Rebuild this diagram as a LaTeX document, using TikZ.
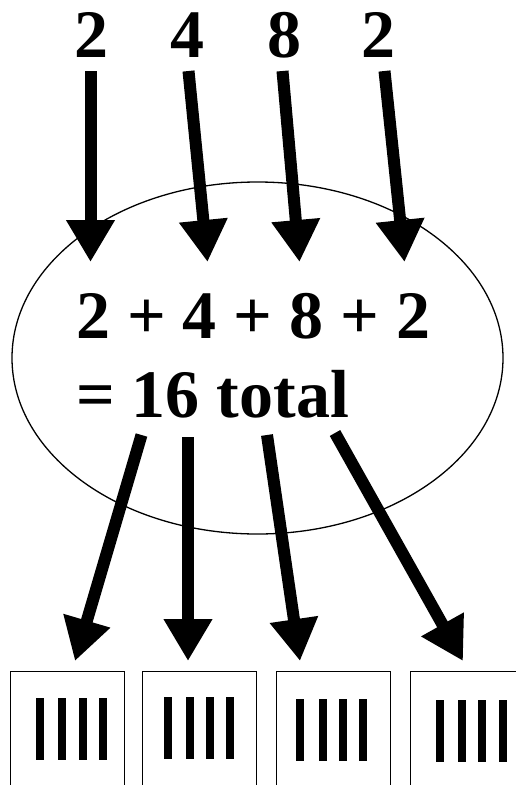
\documentclass[tikz,border=0pt]{standalone}
\usepackage{fontspec}
\setmainfont{Liberation Serif}
\usetikzlibrary{arrows.meta,shapes.geometric}
\begin{document}
\begin{tikzpicture}[x=1pt,y=-1pt,
  bignum/.style={font=\fontsize{68}{79}\selectfont\bfseries, inner sep=0pt},
  fatarrow/.style={line width=12pt, -{Triangle[length=42pt,width=46pt]}},
  outbox/.style={draw, line width=1.3pt, minimum width=114pt, minimum height=170pt, anchor=north west, inner sep=0pt},
  bar/.style={fill=black}
]
\useasboundingbox (0,0) rectangle (516,785);
\clip (0,0) rectangle (516,785);
% top numbers
\node[bignum, anchor=base] (n1) at (91,57) {2};
\node[bignum, anchor=base] (n2) at (187,57) {4};
\node[bignum, anchor=base] (n3) at (284,57) {8};
\node[bignum, anchor=base] (n4) at (378,57) {2};
% ellipse
\node[draw, ellipse, line width=1.3pt, minimum width=491pt, minimum height=352pt, inner sep=0pt] (ell) at (257.5,358) {};
\node[bignum, anchor=base west] (sum) at (76,338) {2 + 4 + 8 + 2};
\node[bignum, anchor=base west] (tot) at (76,417) {= 16 total};
% boxes
\node[outbox] (b1) at (10,671) {};
\node[outbox] (b2) at (142,671) {};
\node[outbox] (b3) at (276,671) {};
\node[outbox] (b4) at (410,671) {};
% bars
\foreach \x in {40,62,82.5,102.5} \fill[bar] (\x-4,698) rectangle (\x+4,760);
\foreach \x in {168,190,210,230} \fill[bar] (\x-4,697) rectangle (\x+4,759);
\foreach \x in {300,322.5,342.5,362.5} \fill[bar] (\x-4,699) rectangle (\x+4,761);
\foreach \x in {440,462,482,502.5} \fill[bar] (\x-4,700) rectangle (\x+4,762);
% arrow coordinates
\coordinate (s1) at (90.5,71);  \coordinate (t1) at (90.5,262);
\coordinate (s2) at (188.5,71); \coordinate (t2) at (207.5,262);
\coordinate (s3) at (282.5,71); \coordinate (t3) at (299.5,262);
\coordinate (s4) at (384.5,71); \coordinate (t4) at (404.5,262);
\coordinate (u1) at (141.5,435); \coordinate (v1) at (75,661);
\coordinate (u2) at (188,437);   \coordinate (v2) at (188,661);
\coordinate (u3) at (267,435);   \coordinate (v3) at (300,661);
\coordinate (u4) at (335,433);   \coordinate (v4) at (463,661);
\foreach \i in {1,...,4} {
  \draw[fatarrow] (s\i) -- (t\i);
  \draw[fatarrow] (u\i) -- (v\i);
}
\end{tikzpicture}
\end{document}
